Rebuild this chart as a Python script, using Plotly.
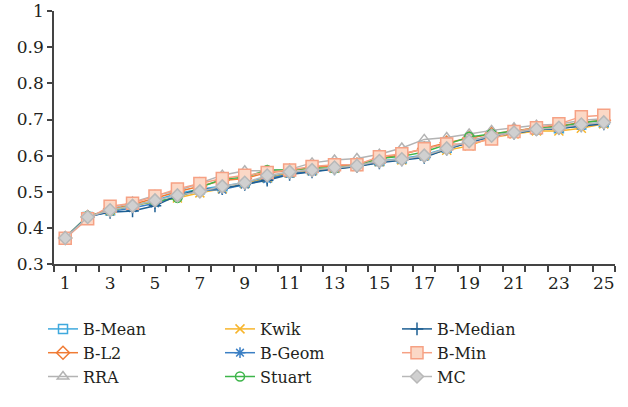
import plotly.graph_objects as go

x = list(range(1, 26))

b_mean = [0.372,0.430,0.449,0.460,0.476,0.495,0.507,0.515,0.525,0.540,0.553,0.560,0.567,0.572,0.585,0.592,0.602,0.622,0.640,0.656,0.664,0.672,0.676,0.686,0.692]
b_l2 = [0.372,0.430,0.452,0.465,0.482,0.500,0.515,0.531,0.537,0.553,0.558,0.567,0.572,0.575,0.592,0.603,0.620,0.636,0.648,0.660,0.668,0.677,0.682,0.692,0.698]
rra = [0.375,0.432,0.452,0.472,0.490,0.502,0.525,0.546,0.558,0.558,0.562,0.580,0.588,0.592,0.604,0.621,0.645,0.650,0.660,0.670,0.677,0.684,0.687,0.698,0.702]
kwik = [0.372,0.430,0.448,0.462,0.472,0.483,0.497,0.508,0.522,0.538,0.552,0.558,0.565,0.570,0.583,0.588,0.600,0.615,0.627,0.650,0.660,0.668,0.668,0.676,0.688]
b_geom = [0.372,0.430,0.445,0.455,0.468,0.488,0.503,0.506,0.520,0.535,0.550,0.556,0.564,0.571,0.582,0.589,0.597,0.618,0.636,0.653,0.662,0.672,0.675,0.683,0.690]
stuart = [0.372,0.433,0.447,0.463,0.473,0.483,0.512,0.535,0.540,0.560,0.560,0.566,0.565,0.575,0.592,0.598,0.610,0.632,0.652,0.660,0.668,0.676,0.680,0.691,0.698]
b_median = [0.372,0.432,0.443,0.447,0.461,0.490,0.506,0.510,0.520,0.532,0.548,0.555,0.563,0.570,0.580,0.588,0.595,0.618,0.636,0.654,0.662,0.672,0.675,0.682,0.688]
b_min = [0.371,0.425,0.460,0.468,0.488,0.508,0.523,0.537,0.546,0.553,0.560,0.570,0.575,0.575,0.597,0.605,0.619,0.632,0.632,0.646,0.667,0.677,0.688,0.708,0.712]
mc = [0.372,0.430,0.449,0.461,0.476,0.490,0.501,0.515,0.525,0.545,0.555,0.560,0.567,0.572,0.585,0.590,0.600,0.620,0.640,0.655,0.664,0.673,0.677,0.686,0.692]

y_ticks = [0.3, 0.4, 0.5, 0.6, 0.7, 0.8, 0.9, 1.0]
y_tick_text = ["0.3", "0.4", "0.5", "0.6", "0.7", "0.8", "0.9", "1"]
x_label_vals = list(range(1, 26, 2))

# (name, data, color, symbol, size, fillcolor, legend rank)
series = [
    ("B-Mean", b_mean, "#3fa9dd", "square-open", 9, None, 1),
    ("B-L2", b_l2, "#f07b34", "diamond-open", 10, None, 4),
    ("RRA", rra, "#b3b3b3", "triangle-up-open", 10, None, 7),
    ("Kwik", kwik, "#f7b52c", "x-thin-open", 9, None, 2),
    ("B-Geom", b_geom, "#3b7fc4", "asterisk-open", 9, None, 5),
    ("Stuart", stuart, "#3db54a", "circle-open", 9, None, 8),
    ("B-Median", b_median, "#1d5f93", "cross-thin-open", 9, None, 3),
    ("B-Min", b_min, "#f6a184", "square", 12, "#fbd8c6", 6),
    ("MC", mc, "#b8b8b8", "diamond", 10, "#d0d0d0", 9),
]

fig = go.Figure()
for name, ys, color, sym, size, fill, rank in series:
    marker = dict(symbol=sym, size=size, color=fill if fill else color,
                  line=dict(color=color, width=1.5))
    fig.add_trace(go.Scatter(
        x=x, y=ys, name=name, mode="lines+markers",
        line=dict(color=color, width=1.5),
        marker=marker, legendrank=rank,
    ))

SERIF = "DejaVu Serif"
axis_font = dict(family=SERIF, size=17, color="#231f20")

fig.update_layout(
    width=628, height=407,
    margin=dict(l=54, r=13, t=11, b=143, autoexpand=False),
    paper_bgcolor="white", plot_bgcolor="white",
    font=dict(family=SERIF),
    showlegend=True,
    legend=dict(
        orientation="h", xref="container", yref="container",
        x=43/628, y=1-312/407, xanchor="left", yanchor="top",
        font=dict(family=SERIF, size=16, color="#231f20"),
        entrywidth=132, entrywidthmode="pixels",
        traceorder="normal",
    ),
    xaxis=dict(
        range=[0.5, 25.5], tickmode="array", tickvals=x_label_vals,
        ticktext=[str(v) for v in x_label_vals], ticks="",
        showline=True, linecolor="#444", linewidth=1.5, showgrid=False,
        zeroline=False, tickfont=axis_font, automargin=False,
        ticklabelstandoff=3,
        minor=dict(tickmode="array", tickvals=[v + 0.5 for v in range(0, 26)],
                   ticks="outside", ticklen=6, tickcolor="#444", tickwidth=1.5,
                   showgrid=False),
    ),
    yaxis=dict(
        range=[0.3, 1.0005], tickmode="array", tickvals=y_ticks, ticktext=y_tick_text,
        ticks="outside", ticklen=5, tickcolor="#444", tickwidth=1.5,
        showline=True, linecolor="#444", linewidth=1.5, showgrid=False,
        zeroline=False, tickfont=axis_font, automargin=False,
        ticklabeloverflow="allow",
    ),
)

fig.write_html("out.html", config={"displayModeBar": False},
               post_script="document.body.style.margin='0';")
